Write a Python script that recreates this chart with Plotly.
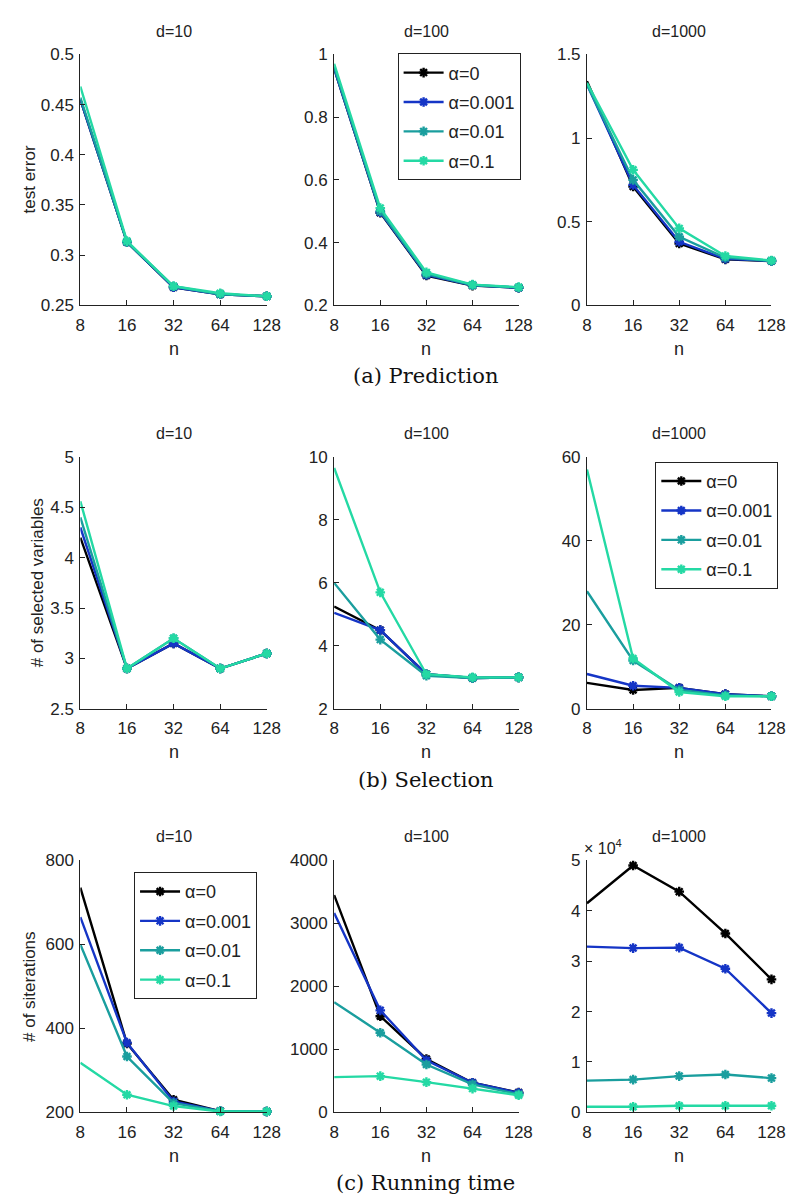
import plotly.graph_objects as go
import math

n_vals = [8, 16, 32, 64, 128]
n_ticks = ["8", "16", "32", "64", "128"]
alpha_names = ["α=0", "α=0.001", "α=0.01", "α=0.1"]
colors = ["#000000", "#1535c6", "#1a9e9e", "#24d9a4"]

# (a) Prediction: test error
pred_d10 = [[0.455, 0.313, 0.268, 0.261, 0.259],
            [0.455, 0.313, 0.268, 0.261, 0.259],
            [0.457, 0.313, 0.269, 0.261, 0.259],
            [0.468, 0.314, 0.269, 0.262, 0.259]]
pred_d100 = [[0.955, 0.495, 0.295, 0.263, 0.256],
             [0.955, 0.497, 0.297, 0.264, 0.256],
             [0.960, 0.500, 0.300, 0.265, 0.257],
             [0.970, 0.510, 0.305, 0.266, 0.258]]
pred_d1000 = [[1.34, 0.71, 0.37, 0.275, 0.265],
              [1.32, 0.72, 0.38, 0.278, 0.265],
              [1.32, 0.75, 0.41, 0.285, 0.266],
              [1.33, 0.81, 0.46, 0.295, 0.268]]

# (b) Selection: number of selected variables
sel_d10 = [[4.20, 2.90, 3.15, 2.90, 3.05],
           [4.30, 2.90, 3.15, 2.90, 3.05],
           [4.40, 2.90, 3.20, 2.90, 3.05],
           [4.56, 2.90, 3.20, 2.90, 3.05]]
sel_d100 = [[5.25, 4.50, 3.10, 2.98, 3.00],
            [5.05, 4.50, 3.10, 2.98, 3.00],
            [6.00, 4.20, 3.05, 2.98, 3.00],
            [9.65, 5.70, 3.10, 3.00, 3.00]]
sel_d1000 = [[6.2, 4.5, 5.0, 3.5, 3.0],
             [8.3, 5.5, 5.0, 3.5, 3.0],
             [28.0, 11.5, 4.5, 3.2, 3.0],
             [57.0, 12.0, 4.0, 3.0, 3.0]]

# (c) Running time: number of iterations
it_d10 = [[735, 364, 230, 203, 202],
          [665, 366, 226, 203, 202],
          [600, 333, 222, 203, 202],
          [318, 242, 215, 202, 202]]
it_d100 = [[3450, 1527, 848, 470, 314],
           [3165, 1620, 827, 470, 310],
           [1750, 1265, 760, 445, 288],
           [560, 575, 480, 377, 272]]
it_d1000 = [[41500, 49000, 43800, 35500, 26400],
            [32900, 32600, 32700, 28500, 19700],
            [6300, 6500, 7200, 7500, 6800],
            [1100, 1100, 1300, 1300, 1300]]

panels = [
    (0, 0, pred_d10, [0.25, 0.5], [0.25, 0.3, 0.35, 0.4, 0.45, 0.5], ["0.25", "0.3", "0.35", "0.4", "0.45", "0.5"]),
    (0, 1, pred_d100, [0.2, 1.0], [0.2, 0.4, 0.6, 0.8, 1.0], ["0.2", "0.4", "0.6", "0.8", "1"]),
    (0, 2, pred_d1000, [0, 1.5], [0, 0.5, 1, 1.5], ["0", "0.5", "1", "1.5"]),
    (1, 0, sel_d10, [2.5, 5], [2.5, 3, 3.5, 4, 4.5, 5], ["2.5", "3", "3.5", "4", "4.5", "5"]),
    (1, 1, sel_d100, [2, 10], [2, 4, 6, 8, 10], ["2", "4", "6", "8", "10"]),
    (1, 2, sel_d1000, [0, 60], [0, 20, 40, 60], ["0", "20", "40", "60"]),
    (2, 0, it_d10, [200, 800], [200, 400, 600, 800], ["200", "400", "600", "800"]),
    (2, 1, it_d100, [0, 4000], [0, 1000, 2000, 3000, 4000], ["0", "1000", "2000", "3000", "4000"]),
    (2, 2, it_d1000, [0, 50000], [0, 10000, 20000, 30000, 40000, 50000], ["0", "1", "2", "3", "4", "5"]),
]
titles = ["d=10", "d=100", "d=1000"]
ytitles = ["test error", "# of selected variables", "# of siterations"]
captions = ["(a) Prediction", "(b) Selection", "(c) Running time"]
legend_col = {0: 1, 1: 2, 2: 0}

W, H = 797, 1199
col_px = [(69, 260), (329, 518), (588, 777)]
row_px = [(38, 293), (447, 703), (857, 1113)]
title_y = [15, 423, 833]
nlab_y = [337, 747, 1157]
cap_y = [365, 775, 1185]
ytitle_x = [17, 25, 17]
legend_box = {0: (394, 37), 1: (658, 452), 2: (124, 869)}

SANS = "Liberation Sans, Arial, sans-serif"
tick_font = dict(family=SANS, size=17, color="#222222")

fig = go.Figure()
layout = dict(width=W, height=H, margin=dict(l=0, r=0, t=0, b=0),
              paper_bgcolor="white", plot_bgcolor="white", showlegend=True)
annotations = []

for idx, (r, c, data, yr, tv, tt) in enumerate(panels):
    k = idx + 1
    xa = "xaxis" if k == 1 else f"xaxis{k}"
    ya = "yaxis" if k == 1 else f"yaxis{k}"
    xref = "x" if k == 1 else f"x{k}"
    yref = "y" if k == 1 else f"y{k}"
    x0, x1 = col_px[c]
    y0, y1 = row_px[r]
    has_leg = (legend_col[r] == c)
    legname = "legend" if r == 0 else f"legend{r+1}"
    for s in range(4):
        fig.add_trace(go.Scatter(
            x=n_vals, y=data[s], mode="lines+markers", name=alpha_names[s],
            line=dict(color=colors[s], width=2.4),
            marker=dict(symbol="asterisk-open", size=8, color=colors[s],
                        line=dict(width=2.4, color=colors[s])),
            xaxis=xref, yaxis=yref, showlegend=has_leg, legend=legname,
            legendgroup=f"g{r}_{s}", cliponaxis=False))
    layout[xa] = dict(domain=[x0 / W, x1 / W], anchor=yref, type="log",
                      range=[math.log10(8), math.log10(128)],
                      tickvals=n_vals, ticktext=n_ticks, ticks="inside", ticklen=5,
                      tickcolor="#222222", showline=True, linecolor="#222222", linewidth=1,
                      showgrid=False, zeroline=False, tickfont=tick_font,
                      ticklabelstandoff=4)
    layout[ya] = dict(domain=[1 - y1 / H, 1 - y0 / H], anchor=xref, range=yr,
                      tickvals=tv, ticktext=tt, ticks="inside", ticklen=5,
                      tickcolor="#222222", showline=True, linecolor="#222222", linewidth=1,
                      showgrid=False, zeroline=False, tickfont=tick_font,
                      ticklabelstandoff=2)
    annotations.append(dict(text=titles[c], x=(x0 + x1) / 2 / W, y=1 - title_y[r] / H,
                            xref="paper", yref="paper", showarrow=False,
                            xanchor="center", yanchor="middle",
                            font=dict(family=SANS, size=16, color="#222222")))
    annotations.append(dict(text="n", x=(x0 + x1) / 2 / W, y=1 - nlab_y[r] / H,
                            xref="paper", yref="paper", showarrow=False,
                            xanchor="center", yanchor="middle",
                            font=dict(family=SANS, size=18, color="#222222")))
    if c == 0:
        annotations.append(dict(text=ytitles[r], x=ytitle_x[r] / W, y=1 - (y0 + y1) / 2 / H,
                                xref="paper", yref="paper", showarrow=False, textangle=-90,
                                xanchor="center", yanchor="middle",
                                font=dict(family=SANS, size=17, color="#222222")))

for r in range(3):
    annotations.append(dict(text=captions[r], x=0.5 * (69 + 777) / W, y=1 - cap_y[r] / H,
                            xref="paper", yref="paper", showarrow=False,
                            xanchor="center", yanchor="middle",
                            font=dict(family="DejaVu Serif, serif", size=21, color="#111111")))
    lx, ly = legend_box[r]
    legname = "legend" if r == 0 else f"legend{r+1}"
    layout[legname] = dict(x=lx / W, y=1 - ly / H, xref="paper", yref="paper",
                           xanchor="left", yanchor="top", bgcolor="white",
                           bordercolor="#222222", borderwidth=1,
                           font=dict(family=SANS, size=18, color="#222222"),
                           tracegroupgap=3, itemwidth=40)

annotations.append(dict(text="× 10<sup>4</sup>", x=583 / W, y=1 - 843 / H, xref="paper", yref="paper",
                        showarrow=False, xanchor="left", yanchor="middle",
                        font=dict(family=SANS, size=16, color="#222222")))

layout["annotations"] = annotations
fig.update_layout(**layout)
fig.write_html("out.html")
